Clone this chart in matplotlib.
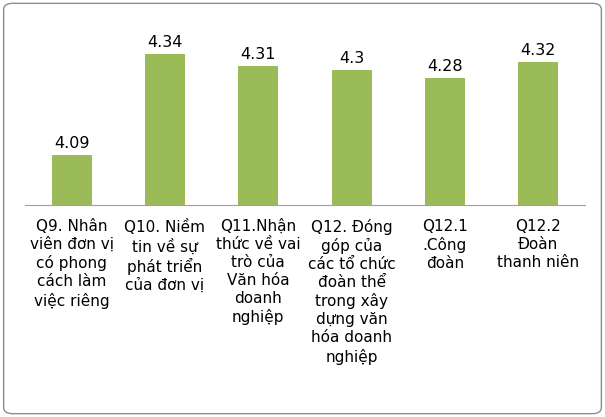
import matplotlib
matplotlib.use("Agg")
import matplotlib.pyplot as plt
from matplotlib.patches import FancyBboxPatch

categories = ["Q9. Nhân\nviên đơn vị\ncó phong\ncách làm\nviệc riêng",
              "Q10. Niềm\ntin về sự\nphát triển\ncủa đơn vị",
              "Q11.Nhận\nthức về vai\ntrò của\nVăn hóa\ndoanh\nnghiệp",
              "Q12. Đóng\ngóp của\ncác tổ chức\nđoàn thể\ntrong xây\ndựng văn\nhóa doanh\nnghiệp",
              "Q12.1\n.Công\nđoàn",
              "Q12.2\nĐoàn\nthanh niên"]
values = [4.09, 4.34, 4.31, 4.3, 4.28, 4.32]
value_labels = ["4.09", "4.34", "4.31", "4.3", "4.28", "4.32"]

fig = plt.figure(figsize=(6.05, 4.17), dpi=100)
fig.patches.append(FancyBboxPatch((0.006, 0.008), 0.988, 0.984, boxstyle="round,pad=0,rounding_size=0.015",
                                  transform=fig.transFigure, fill=False, edgecolor="#8c8c8c", lw=1))
ax = fig.add_axes([25/605, 1-205/417, 560/605, 175/417])
x = range(len(values))
ax.bar(x, values, width=0.43, color="#9BBB59")
ax.set_ylim(3.966, 4.4)
ax.set_xlim(-0.5, len(values)-0.5)
for i, (v, t) in enumerate(zip(values, value_labels)):
    ax.text(i, v + 0.01, t, ha="center", va="bottom", fontsize=11.5)
ax.set_yticks([])
ax.set_xticks(list(x))
ax.set_xticklabels(categories, fontsize=11, linespacing=1.25)
ax.tick_params(axis="x", length=0, pad=10)
for s in ["top", "right", "left"]:
    ax.spines[s].set_visible(False)
ax.spines["bottom"].set_color("#a0a0a0")
fig.savefig("out.png", dpi=100)
